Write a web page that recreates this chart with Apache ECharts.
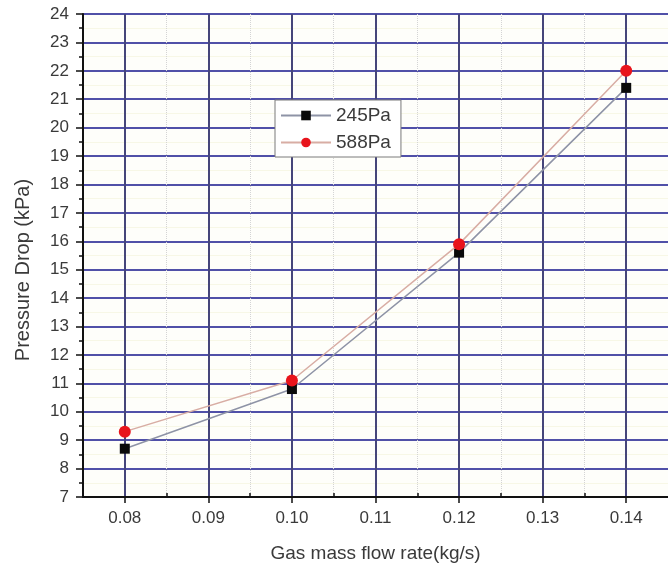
<!DOCTYPE html>
<html>
<head>
<meta charset="utf-8">
<script src="https://cdn.jsdelivr.net/npm/echarts@6/dist/echarts.min.js"></script>
<style>
  html, body { margin: 0; padding: 0; background: #ffffff; }
  #chart { width: 668px; height: 570px; }
</style>
</head>
<body>
<div id="chart"></div>
<script>
// Gas mass flow rate (kg/s) and measured pressure drop (kPa)
const flowRates = [0.08, 0.10, 0.12, 0.14];
const drop245 = [8.7, 10.8, 15.6, 21.4];
const drop588 = [9.3, 11.1, 15.9, 22.0];

const seriesNames = ['245Pa', '588Pa'];
const xMajorTicks = [0.08, 0.09, 0.10, 0.11, 0.12, 0.13, 0.14];
const xMinorTicks = [0.085, 0.095, 0.105, 0.115, 0.125, 0.135];

const FONT = '"Liberation Sans", Arial, sans-serif';
const chart = echarts.init(document.getElementById('chart'), null, { renderer: 'canvas' });

const pairs = (xs, ys) => xs.map((x, i) => [x, ys[i]]);

chart.setOption({
  backgroundColor: '#ffffff',
  animation: false,
  grid: {
    left: 83, top: 14, right: -9, bottom: 73,
    show: true, backgroundColor: '#fefefa', borderWidth: 0
  },
  legend: {
    orient: 'vertical',
    left: 275, top: 100,
    padding: [6, 10, 5, 5],
    itemGap: 8,
    itemWidth: 50,
    itemHeight: 12,
    backgroundColor: '#ffffff',
    borderColor: '#7a7a7a',
    borderWidth: 1,
    textStyle: { fontFamily: FONT, fontSize: 19, color: '#3a3a3a' },
    data: seriesNames
  },
  xAxis: [
    {
      type: 'value', position: 'bottom',
      min: 0.075, max: 0.145,
      name: 'Gas mass flow rate(kg/s)',
      nameLocation: 'middle', nameGap: 47,
      nameTextStyle: { fontFamily: FONT, fontSize: 19, color: '#3a3a3a' },
      axisLine: { show: true, lineStyle: { color: '#111', width: 2 } },
      axisTick: { show: true, customValues: xMajorTicks, length: 6, lineStyle: { color: '#111', width: 1.5 } },
      axisLabel: {
        customValues: xMajorTicks, margin: 13,
        formatter: v => v.toFixed(2),
        fontFamily: FONT, fontSize: 17, color: '#3a3a3a'
      },
      splitLine: { show: true, lineStyle: { color: '#45457a', width: 2 } },
      z: 3
    },
    {
      type: 'value', position: 'bottom',
      min: 0.075, max: 0.145,
      axisLine: { show: false },
      axisTick: { show: true, customValues: xMinorTicks, inside: true, length: 4, lineStyle: { color: '#111', width: 1.5 } },
      axisLabel: { show: false, customValues: xMinorTicks },
      splitLine: { show: true, lineStyle: { color: '#d4d4d4', width: 1, type: 'dotted' } },
      z: 2
    }
  ],
  yAxis: {
    type: 'value',
    min: 7, max: 24, interval: 1,
    axisLine: { show: true, lineStyle: { color: '#111', width: 2 } },
    axisTick: { show: true, length: 7, lineStyle: { color: '#111', width: 1.5 } },
    minorTick: { show: true, splitNumber: 2, length: 4, lineStyle: { color: '#111', width: 1.5 } },
    axisLabel: { margin: 14, fontFamily: FONT, fontSize: 17, color: '#3a3a3a' },
    splitLine: { show: true, lineStyle: { color: '#5050a8', width: 2 } },
    minorSplitLine: { show: true, lineStyle: { color: '#f7f7e6', width: 1 } }
  },
  graphic: [
    {
      type: 'text',
      x: 23, y: 270,
      rotation: Math.PI / 2,
      style: {
        text: 'Pressure Drop (kPa)',
        fontFamily: FONT, fontSize: 20, fill: '#3a3a3a',
        textAlign: 'center', textVerticalAlign: 'middle'
      }
    }
  ],
  series: [
    {
      name: seriesNames[0], type: 'line', xAxisIndex: 0,
      data: pairs(flowRates, drop245),
      symbol: 'rect', symbolSize: 10,
      itemStyle: { color: '#0a0a0a' },
      lineStyle: { color: '#8e93a6', width: 1.5 },
      z: 4
    },
    {
      name: seriesNames[1], type: 'line', xAxisIndex: 0,
      data: pairs(flowRates, drop588),
      symbol: 'circle', symbolSize: 12,
      itemStyle: { color: '#e8141c' },
      lineStyle: { color: '#d8ada4', width: 1.5 },
      z: 5
    }
  ]
});
</script>
</body>
</html>
